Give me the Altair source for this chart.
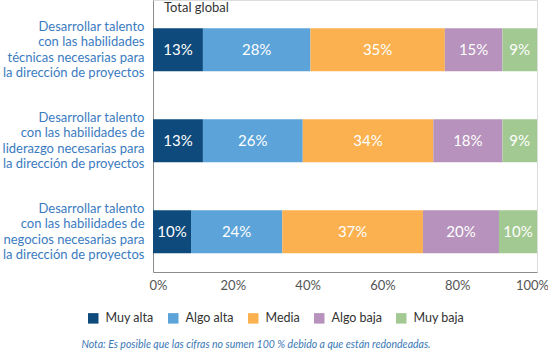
import altair as alt
import pandas as pd

tasks = [
    "Desarrollar talento|con las habilidades|técnicas necesarias para|la dirección de proyectos",
    "Desarrollar talento|con las habilidades de|liderazgo necesarias para|la dirección de proyectos",
    "Desarrollar talento|con las habilidades de|negocios necesarias para|la dirección de proyectos",
]
levels = ["Muy alta", "Algo alta", "Media", "Algo baja", "Muy baja"]
colors = ["#0e4a7b", "#5ba3d9", "#fbb150", "#b692bc", "#a2c991"]
tecnicas = [13, 28, 35, 15, 9]
liderazgo = [13, 26, 34, 18, 9]
negocios = [10, 24, 37, 20, 10]
x_ticks = [0, 0.2, 0.4, 0.6, 0.8, 1.0]
panel_title = "Total global"
note = "Nota: Es posible que las cifras no sumen 100 % debido a que están redondeadas."

rows = []
for t, vals in zip(tasks, [tecnicas, liderazgo, negocios]):
    for i, (lv, v) in enumerate(zip(levels, vals)):
        rows.append({"task": t, "level": lv, "value": v, "order": i, "label": f"{v}%"})
df = pd.DataFrame(rows)

FONT = "Lato"

base = alt.Chart(df).transform_stack(
    stack="value", as_=["x0", "x1"], groupby=["task"], offset="normalize",
    sort=[alt.SortField("order", order="ascending")]
).transform_calculate(mid="(datum.x0 + datum.x1) / 2")

yenc = alt.Y(
    "task:N", sort=tasks, title=None,
    scale=alt.Scale(paddingInner=0.527, paddingOuter=0.258, align=0.6),
    axis=alt.Axis(
        labelExpr="split(datum.label, '|')", labelFont=FONT, labelFontSize=13,
        labelColor="#3b7bbf", labelLineHeight=15.5, labelPadding=9, ticks=False,
        labelOffset=-23, domainColor="#8c8c8c", labelLimit=200,
    ),
)

bars = base.mark_bar().encode(
    x=alt.X(
        "x0:Q", title=None, scale=alt.Scale(domain=[0, 1]),
        axis=alt.Axis(orient="bottom", labels=False, ticks=False, grid=False,
                      domainColor="#8c8c8c"),
    ),
    x2="x1:Q",
    y=yenc,
    color=alt.Color(
        "level:N", scale=alt.Scale(domain=levels, range=colors), title=None,
        legend=alt.Legend(
            orient="none", legendX=-66, legendY=312, direction="horizontal",
            symbolType="square", symbolSize=110, symbolStrokeWidth=0,
            labelFont=FONT, labelFontSize=12.5, labelColor="#333333",
            columnPadding=13, labelOffset=6,
        ),
    ),
    order=alt.Order("order:Q"),
)

texts = base.mark_text(color="white", font=FONT, fontSize=15).encode(
    x=alt.X("mid:Q", scale=alt.Scale(domain=[0, 1]), axis=None),
    y=alt.Y("task:N", sort=tasks),
    text="label:N",
)

ticks_layer = alt.Chart(pd.DataFrame({"v": x_ticks})).mark_tick(opacity=0).encode(
    x=alt.X(
        "v:Q", title=None, scale=alt.Scale(domain=[-0.0134, 1.0134], nice=False, zero=False),
        axis=alt.Axis(orient="bottom", values=x_ticks, format=".0%", labelFont=FONT,
                      labelFontSize=13, labelColor="#555555", ticks=False, grid=False,
                      domain=False, labelPadding=7, labelFlush=False),
    ),
    y=alt.value(0),
)

title_txt = alt.Chart(pd.DataFrame({"t": [panel_title]})).mark_text(
    align="left", baseline="middle", font=FONT, fontSize=13, color="#333333"
).encode(x=alt.value(11), y=alt.value(8), text="t:N")

note_txt = alt.Chart(pd.DataFrame({"t": [note]})).mark_text(
    align="center", baseline="middle", font=FONT, fontSize=10.5, fontStyle="italic",
    color="#3a78b5"
).encode(x=alt.value(103), y=alt.value(345), text="t:N")

chart = alt.layer(bars, texts, ticks_layer, title_txt, note_txt).resolve_scale(
    x="independent"
).properties(
    width=384, height=272,
    autosize=alt.AutoSizeParams(type="none"),
    padding={"left": 153, "top": 0, "right": 11, "bottom": 79},
).configure_view(stroke=None).configure(background="white")

chart.save("out.html", embed_options={"renderer": "svg", "actions": False})
